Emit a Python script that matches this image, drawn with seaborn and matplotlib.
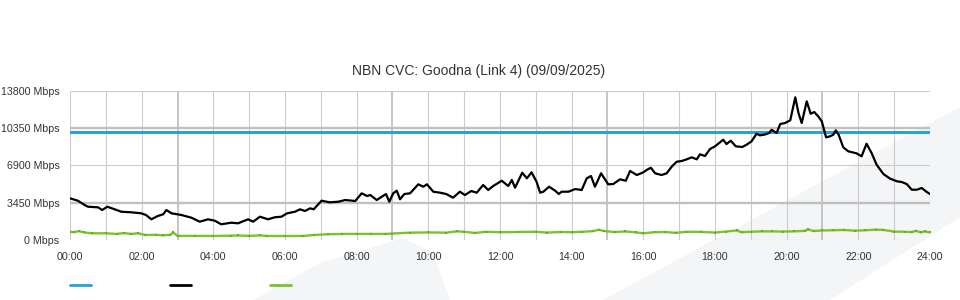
import matplotlib
matplotlib.use("Agg")
import matplotlib.pyplot as plt
from matplotlib.patches import Polygon
from matplotlib.lines import Line2D
import seaborn as sns
import pandas as pd

# ---------------- data ----------------
title = "NBN CVC: Goodna (Link 4) (09/09/2025)"

capacity_hours = [0, 24]
capacity_mbps = [10000, 10000]

traffic_hours = [
    0.0, 0.22, 0.41, 0.5, 0.78, 0.9, 1.04, 1.2, 1.43, 1.71, 1.99, 2.12, 2.27, 2.45, 2.6, 2.69, 2.83,
    3.11, 3.39, 3.62, 3.85, 4.04, 4.22, 4.5, 4.69, 4.97, 5.11, 5.3, 5.53, 5.71, 5.9, 6.06,
    6.28, 6.42, 6.56, 6.7, 6.8, 7.02, 7.25, 7.49, 7.68, 7.96, 8.14, 8.29, 8.38, 8.56, 8.7, 8.82,
    8.91, 9.02, 9.12, 9.21, 9.33, 9.49, 9.72, 9.86, 9.96, 10.14, 10.33, 10.5, 10.69, 10.88, 11.02,
    11.2, 11.35, 11.53, 11.67, 11.81, 12.05, 12.23, 12.33, 12.42, 12.62, 12.75, 12.88, 13.02,
    13.12, 13.21, 13.37, 13.54, 13.64, 13.72, 13.91, 14.1, 14.28, 14.42, 14.54, 14.65, 14.82,
    15.02, 15.16, 15.35, 15.51, 15.63, 15.82, 16.0, 16.09, 16.21, 16.33, 16.51, 16.65, 16.79,
    16.93, 17.07, 17.21, 17.35, 17.49, 17.58, 17.72, 17.86, 18.0, 18.23, 18.32, 18.44, 18.58,
    18.76, 18.88, 19.02, 19.16, 19.25, 19.37, 19.51, 19.58, 19.72, 19.82, 19.95, 20.1, 20.24,
    20.33, 20.42, 20.56, 20.67, 20.77, 20.88, 20.98, 21.1, 21.21, 21.3, 21.37, 21.45, 21.58,
    21.72, 21.95, 22.09, 22.23, 22.37, 22.51, 22.7, 22.89, 23.08, 23.21, 23.35, 23.49, 23.63,
    23.77, 23.91, 24.0,
]
traffic_mbps = [
    3853, 3631, 3234, 3077, 3021, 2772, 3077, 2892, 2615, 2559, 2467, 2310, 1913, 2218, 2375, 2772, 2467,
    2310, 2061, 1691, 1913, 1783, 1451, 1599, 1543, 1913, 1691, 2153, 1913, 2097, 2153, 2467,
    2615, 2837, 2680, 2929, 2837, 3631, 3483, 3539, 3696, 3604, 4315, 4066, 4158, 3696, 4001, 4250,
    3539, 4315, 4555, 3761, 4250, 4315, 5147, 4925, 5147, 4463, 4371, 4250, 3909, 4463, 4158,
    4528, 4371, 5082, 4620, 4990, 5479, 4990, 5544, 4833, 6219, 5701, 6256, 5387,
    4371, 4463, 4925, 4555, 4250, 4463, 4463, 4712, 4620, 5701, 5914, 4925, 6163,
    5147, 5174, 5609, 5479, 6376, 6006, 6256, 6468, 6681, 6163, 6006, 6163, 6773,
    7235, 7300, 7457, 7641, 7457, 7919, 7762, 8408, 8658, 9268, 8870, 9175, 8658,
    8593, 8806, 9120, 9822, 9674, 9730, 9887, 10192, 9887, 10718, 10811, 11060, 13185,
    11735, 10811, 12816, 11670, 11827, 11430, 10968, 9489, 9582, 9730, 10136, 9730, 8565,
    8196, 8011, 7734, 8898, 8039, 6958, 6098, 5664, 5424, 5359, 5174, 4648, 4648,
    4805, 4435, 4250,
]

upload_hours = [
    0.0, 0.1, 0.25, 0.4, 0.6, 1.0, 1.3, 1.5, 1.7, 1.9, 2.1, 2.4, 2.6, 2.8, 2.88, 3.0, 3.5, 4.0,
    4.5, 4.7, 5.0, 5.3, 5.5, 6.0, 6.5, 6.8, 7.2, 7.6, 8.0, 8.4, 8.8, 9.0, 9.5, 10.0, 10.5, 10.8,
    11.0, 11.3, 11.6, 12.0, 12.5, 13.0, 13.3, 13.7, 14.0, 14.3, 14.6, 14.75, 14.9, 15.2, 15.5,
    15.8, 16.0, 16.3, 16.6, 16.9, 17.2, 17.6, 18.0, 18.3, 18.6, 18.75, 19.0, 19.3, 19.6, 19.9,
    20.2, 20.5, 20.6, 20.75, 21.0, 21.3, 21.6, 21.9, 22.2, 22.5, 22.7, 23.0, 23.3, 23.5, 23.6,
    23.75, 23.85, 24.0,
]
upload_mbps = [
    760, 720, 820, 700, 620, 620, 560, 640, 560, 620, 460, 480, 430, 480, 700, 380, 380, 370,
    400, 420, 380, 430, 370, 370, 370, 460, 530, 560, 560, 560, 560, 600, 680, 700, 680, 800,
    760, 650, 760, 720, 740, 760, 690, 740, 720, 760, 820, 950, 830, 740, 790,
    700, 620, 720, 740, 660, 760, 750, 690, 780, 880, 720, 760, 800, 790, 780,
    800, 840, 980, 830, 880, 900, 930, 860, 900, 960, 930, 780, 760, 730, 850,
    700, 790, 700,
]

y_ticks = [0, 3450, 6900, 10350, 13800]
y_tick_labels = ["0 Mbps", "3450 Mbps", "6900 Mbps", "10350 Mbps", "13800 Mbps"]
x_ticks = list(range(0, 25))
x_tick_labels = [f"{h:02d}:00" if h % 2 == 0 else "" for h in x_ticks]

# ---------------- style ----------------
BLUE = "#22a2de"
BLACK = "#000000"
GREEN = "#7ec12e"
GRID = "#cccccc"
GRID_MAJOR = "#c0c0c0"

sns.set_style("white")
plt.rcParams["font.family"] = ["Liberation Sans", "DejaVu Sans"]

fig = plt.figure(figsize=(9.6, 3.0), dpi=100)
fig.patch.set_facecolor("white")

W, H = 960.0, 300.0
def fc(x, y):
    return (x / W, 1 - y / H)

# faint watermark shapes behind the chart
for pts in ([(253, 300), (320, 263), (403, 238), (433, 253), (450, 300)],
            [(603, 300), (960, 107), (960, 217), (830, 300)]):
    fig.add_artist(Polygon([fc(*p) for p in pts], closed=True, transform=fig.transFigure,
                           facecolor="#f4f5f7", edgecolor="none", zorder=-5))

ax = fig.add_axes([70 / W, 60 / H, 860 / W, 149.3 / H])
ax.set_facecolor("none")

cap_df = pd.DataFrame({"hour": capacity_hours, "mbps": capacity_mbps})
trf_df = pd.DataFrame({"hour": traffic_hours, "mbps": traffic_mbps})
upl_df = pd.DataFrame({"hour": upload_hours, "mbps": upload_mbps})

sns.lineplot(data=upl_df, x="hour", y="mbps", ax=ax, color=GREEN, lw=1.7, zorder=3,
             marker="s", markersize=1.6, markeredgewidth=0, markerfacecolor="#6aab1e")
sns.lineplot(data=cap_df, x="hour", y="mbps", ax=ax, color=BLUE, lw=2.1, zorder=4)
sns.lineplot(data=trf_df, x="hour", y="mbps", ax=ax, color=BLACK, lw=1.6, zorder=5)

ax.set_xlim(0, 24)
ax.set_ylim(0, 13800)
ax.set_xticks(x_ticks)
ax.set_xticklabels(x_tick_labels)
ax.set_yticks(y_ticks)
ax.set_yticklabels(y_tick_labels)
ax.set_xlabel("")
ax.set_ylabel("")

for s in ax.spines.values():
    s.set_visible(False)

ax.grid(True, color=GRID, lw=0.8, zorder=0)
ax.set_axisbelow(True)
for h, gl in zip(x_ticks, ax.get_xgridlines()):
    if h in (3, 9, 15, 21):
        gl.set_linewidth(1.3)
        gl.set_color(GRID_MAJOR)
for v, gl in zip(y_ticks, ax.get_ygridlines()):
    if v in (3450, 10350):
        gl.set_linewidth(1.7)
        gl.set_color(GRID_MAJOR)

ax.tick_params(axis="x", length=4, width=0.8, color=GRID, pad=5, labelsize=7.7, labelcolor="#333333")
ax.tick_params(axis="y", length=0, pad=7.5, labelsize=7.7, labelcolor="#333333")

fig.text(0.4985, 1 - 71 / H, title, fontsize=10, color="#333333", ha="center", va="center")

# legend swatches (no labels)
for x0, col in ((70, BLUE), (170, BLACK), (270, GREEN)):
    fig.add_artist(Line2D([x0 / W, (x0 + 21) / W], [1 - 285 / H, 1 - 285 / H],
                          transform=fig.transFigure, color=col, lw=2.0))

fig.savefig("out.png", dpi=100)
